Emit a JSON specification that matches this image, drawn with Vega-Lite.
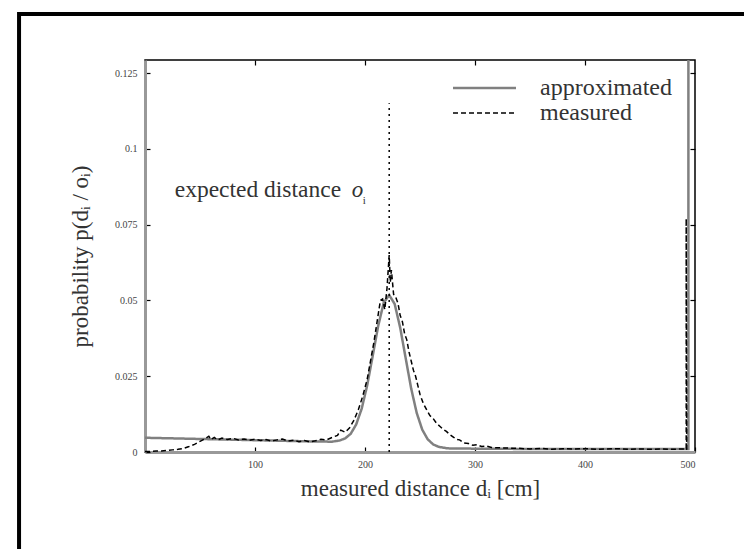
{
  "$schema": "https://vega.github.io/schema/vega-lite/v6.json",
  "width": 550,
  "height": 392,
  "autosize": "none",
  "padding": {"left": 145, "top": 60, "right": 49, "bottom": 97},
  "background": "white",
  "config": {
    "view": {"stroke": "black", "strokeWidth": 1.5},
    "font": "Liberation Serif",
    "text": {"font": "Liberation Serif"}
  },
  "resolve": {"axis": {"x": "independent", "y": "independent"}},
  "layer": [
    {
      "data": {"values": [{}]},
      "mark": {"type": "rect", "fill": "transparent", "stroke": "black", "strokeWidth": 4, "clip": false},
      "encoding": {
        "x": {"datum": -114.5, "type": "quantitative", "axis": null},
        "x2": {"datum": 548},
        "y": {"datum": 0.1445, "type": "quantitative", "axis": null},
        "y2": {"datum": -0.05}
      }
    },
    {
      "data": {
        "values": [
          {"series": "approximated", "i": 0, "x": 0, "y": 0.0047},
          {"series": "approximated", "i": 1, "x": 25, "y": 0.0045},
          {"series": "approximated", "i": 2, "x": 50, "y": 0.0043},
          {"series": "approximated", "i": 3, "x": 75, "y": 0.0041},
          {"series": "approximated", "i": 4, "x": 100, "y": 0.0039},
          {"series": "approximated", "i": 5, "x": 125, "y": 0.0037},
          {"series": "approximated", "i": 6, "x": 150, "y": 0.0035},
          {"series": "approximated", "i": 7, "x": 170, "y": 0.0034},
          {"series": "approximated", "i": 8, "x": 177, "y": 0.0038},
          {"series": "approximated", "i": 9, "x": 182, "y": 0.0045},
          {"series": "approximated", "i": 10, "x": 187, "y": 0.006},
          {"series": "approximated", "i": 11, "x": 192, "y": 0.0091},
          {"series": "approximated", "i": 12, "x": 197, "y": 0.0143},
          {"series": "approximated", "i": 13, "x": 202, "y": 0.022},
          {"series": "approximated", "i": 14, "x": 207, "y": 0.0317},
          {"series": "approximated", "i": 15, "x": 212, "y": 0.0416},
          {"series": "approximated", "i": 16, "x": 217, "y": 0.0492},
          {"series": "approximated", "i": 17, "x": 222, "y": 0.0518},
          {"series": "approximated", "i": 18, "x": 227, "y": 0.0488},
          {"series": "approximated", "i": 19, "x": 232, "y": 0.041},
          {"series": "approximated", "i": 20, "x": 237, "y": 0.0309},
          {"series": "approximated", "i": 21, "x": 242, "y": 0.0209},
          {"series": "approximated", "i": 22, "x": 247, "y": 0.0129},
          {"series": "approximated", "i": 23, "x": 252, "y": 0.0074},
          {"series": "approximated", "i": 24, "x": 257, "y": 0.0042},
          {"series": "approximated", "i": 25, "x": 262, "y": 0.0025},
          {"series": "approximated", "i": 26, "x": 267, "y": 0.0017},
          {"series": "approximated", "i": 27, "x": 275, "y": 0.0012},
          {"series": "approximated", "i": 28, "x": 300, "y": 0.0011},
          {"series": "approximated", "i": 29, "x": 350, "y": 0.001},
          {"series": "approximated", "i": 30, "x": 400, "y": 0.001},
          {"series": "approximated", "i": 31, "x": 450, "y": 0.001},
          {"series": "approximated", "i": 32, "x": 494, "y": 0.001},
          {"series": "approximated", "i": 33, "x": 494, "y": 0.14},
          {"series": "measured", "i": 0, "x": 0, "y": 0.0002},
          {"series": "measured", "i": 1, "x": 5, "y": 0.0002},
          {"series": "measured", "i": 2, "x": 10, "y": 0.0003},
          {"series": "measured", "i": 3, "x": 15, "y": 0.0003},
          {"series": "measured", "i": 4, "x": 20, "y": 0.0005},
          {"series": "measured", "i": 5, "x": 25, "y": 0.0007},
          {"series": "measured", "i": 6, "x": 30, "y": 0.0009},
          {"series": "measured", "i": 7, "x": 35, "y": 0.0012},
          {"series": "measured", "i": 8, "x": 40, "y": 0.0018},
          {"series": "measured", "i": 9, "x": 45, "y": 0.0025},
          {"series": "measured", "i": 10, "x": 50, "y": 0.0035},
          {"series": "measured", "i": 11, "x": 55, "y": 0.0045},
          {"series": "measured", "i": 12, "x": 58, "y": 0.0052},
          {"series": "measured", "i": 13, "x": 60, "y": 0.0041},
          {"series": "measured", "i": 14, "x": 63, "y": 0.0048},
          {"series": "measured", "i": 15, "x": 66, "y": 0.004},
          {"series": "measured", "i": 16, "x": 70, "y": 0.0046},
          {"series": "measured", "i": 17, "x": 75, "y": 0.0041},
          {"series": "measured", "i": 18, "x": 80, "y": 0.0045},
          {"series": "measured", "i": 19, "x": 85, "y": 0.004},
          {"series": "measured", "i": 20, "x": 90, "y": 0.0043},
          {"series": "measured", "i": 21, "x": 95, "y": 0.0039},
          {"series": "measured", "i": 22, "x": 100, "y": 0.0042},
          {"series": "measured", "i": 23, "x": 105, "y": 0.0038},
          {"series": "measured", "i": 24, "x": 110, "y": 0.0041},
          {"series": "measured", "i": 25, "x": 115, "y": 0.0036},
          {"series": "measured", "i": 26, "x": 120, "y": 0.004},
          {"series": "measured", "i": 27, "x": 125, "y": 0.0043},
          {"series": "measured", "i": 28, "x": 130, "y": 0.0036},
          {"series": "measured", "i": 29, "x": 135, "y": 0.0039},
          {"series": "measured", "i": 30, "x": 140, "y": 0.0034},
          {"series": "measured", "i": 31, "x": 145, "y": 0.0038},
          {"series": "measured", "i": 32, "x": 150, "y": 0.0033},
          {"series": "measured", "i": 33, "x": 155, "y": 0.0037},
          {"series": "measured", "i": 34, "x": 160, "y": 0.0042},
          {"series": "measured", "i": 35, "x": 165, "y": 0.004},
          {"series": "measured", "i": 36, "x": 170, "y": 0.0048},
          {"series": "measured", "i": 37, "x": 175, "y": 0.0055},
          {"series": "measured", "i": 38, "x": 178, "y": 0.0072},
          {"series": "measured", "i": 39, "x": 182, "y": 0.0065},
          {"series": "measured", "i": 40, "x": 186, "y": 0.008},
          {"series": "measured", "i": 41, "x": 190, "y": 0.0105},
          {"series": "measured", "i": 42, "x": 194, "y": 0.014},
          {"series": "measured", "i": 43, "x": 198, "y": 0.0185},
          {"series": "measured", "i": 44, "x": 202, "y": 0.024},
          {"series": "measured", "i": 45, "x": 205, "y": 0.03},
          {"series": "measured", "i": 46, "x": 208, "y": 0.036},
          {"series": "measured", "i": 47, "x": 211, "y": 0.043},
          {"series": "measured", "i": 48, "x": 214, "y": 0.05},
          {"series": "measured", "i": 49, "x": 216, "y": 0.0505},
          {"series": "measured", "i": 50, "x": 218, "y": 0.047},
          {"series": "measured", "i": 51, "x": 220, "y": 0.054},
          {"series": "measured", "i": 52, "x": 222, "y": 0.065},
          {"series": "measured", "i": 53, "x": 223, "y": 0.056},
          {"series": "measured", "i": 54, "x": 224, "y": 0.06},
          {"series": "measured", "i": 55, "x": 226, "y": 0.052},
          {"series": "measured", "i": 56, "x": 228, "y": 0.051},
          {"series": "measured", "i": 57, "x": 230, "y": 0.049},
          {"series": "measured", "i": 58, "x": 232, "y": 0.045},
          {"series": "measured", "i": 59, "x": 234, "y": 0.043},
          {"series": "measured", "i": 60, "x": 236, "y": 0.039},
          {"series": "measured", "i": 61, "x": 238, "y": 0.037},
          {"series": "measured", "i": 62, "x": 240, "y": 0.033},
          {"series": "measured", "i": 63, "x": 242, "y": 0.03},
          {"series": "measured", "i": 64, "x": 244, "y": 0.027},
          {"series": "measured", "i": 65, "x": 246, "y": 0.025},
          {"series": "measured", "i": 66, "x": 248, "y": 0.022},
          {"series": "measured", "i": 67, "x": 250, "y": 0.019},
          {"series": "measured", "i": 68, "x": 253, "y": 0.016},
          {"series": "measured", "i": 69, "x": 256, "y": 0.014},
          {"series": "measured", "i": 70, "x": 259, "y": 0.012},
          {"series": "measured", "i": 71, "x": 262, "y": 0.011},
          {"series": "measured", "i": 72, "x": 265, "y": 0.0095},
          {"series": "measured", "i": 73, "x": 268, "y": 0.0085},
          {"series": "measured", "i": 74, "x": 271, "y": 0.0075},
          {"series": "measured", "i": 75, "x": 274, "y": 0.0068},
          {"series": "measured", "i": 76, "x": 277, "y": 0.0058},
          {"series": "measured", "i": 77, "x": 280, "y": 0.005},
          {"series": "measured", "i": 78, "x": 283, "y": 0.0042},
          {"series": "measured", "i": 79, "x": 286, "y": 0.004},
          {"series": "measured", "i": 80, "x": 290, "y": 0.003},
          {"series": "measured", "i": 81, "x": 294, "y": 0.0028},
          {"series": "measured", "i": 82, "x": 298, "y": 0.0022},
          {"series": "measured", "i": 83, "x": 302, "y": 0.0024},
          {"series": "measured", "i": 84, "x": 306, "y": 0.0018},
          {"series": "measured", "i": 85, "x": 310, "y": 0.002},
          {"series": "measured", "i": 86, "x": 315, "y": 0.0015},
          {"series": "measured", "i": 87, "x": 320, "y": 0.0014},
          {"series": "measured", "i": 88, "x": 330, "y": 0.0013},
          {"series": "measured", "i": 89, "x": 340, "y": 0.0012},
          {"series": "measured", "i": 90, "x": 350, "y": 0.001},
          {"series": "measured", "i": 91, "x": 360, "y": 0.0012},
          {"series": "measured", "i": 92, "x": 370, "y": 0.0009},
          {"series": "measured", "i": 93, "x": 380, "y": 0.0011},
          {"series": "measured", "i": 94, "x": 390, "y": 0.001},
          {"series": "measured", "i": 95, "x": 400, "y": 0.0011},
          {"series": "measured", "i": 96, "x": 410, "y": 0.0009},
          {"series": "measured", "i": 97, "x": 420, "y": 0.001},
          {"series": "measured", "i": 98, "x": 430, "y": 0.0011},
          {"series": "measured", "i": 99, "x": 440, "y": 0.0009},
          {"series": "measured", "i": 100, "x": 450, "y": 0.001},
          {"series": "measured", "i": 101, "x": 460, "y": 0.0009},
          {"series": "measured", "i": 102, "x": 470, "y": 0.001},
          {"series": "measured", "i": 103, "x": 480, "y": 0.0009},
          {"series": "measured", "i": 104, "x": 490, "y": 0.001},
          {"series": "measured", "i": 105, "x": 492, "y": 0.001},
          {"series": "measured", "i": 106, "x": 492, "y": 0.077},
          {"series": "measured", "i": 107, "x": 492.5, "y": 0.0}
        ]
      },
      "mark": {"type": "line", "clip": true, "interpolate": "linear"},
      "encoding": {
        "x": {
          "field": "x", "type": "quantitative",
          "scale": {"domain": [0, 500], "nice": false, "zero": false},
          "axis": {
            "orient": "bottom", "values": [100, 200, 300, 400, 500],
            "labelFont": "Liberation Serif", "labelFontSize": 10, "labelColor": "#444",
            "tickSize": -5, "tickColor": "black", "tickWidth": 1.2,
            "domainColor": "#999", "domainWidth": 3, "grid": false,
            "labelPadding": 12,
            "title": "measured distance dᵢ [cm]",
            "titleFont": "Liberation Serif", "titleFontSize": 23, "titleFontWeight": "normal",
            "titleColor": "#333", "titlePadding": 8
          }
        },
        "y": {
          "field": "y", "type": "quantitative",
          "scale": {"domain": [0, 0.1293], "nice": false, "zero": false},
          "axis": {
            "orient": "left", "values": [0, 0.025, 0.05, 0.075, 0.1, 0.125], "format": ".3~f",
            "labelFont": "Liberation Serif", "labelFontSize": 10, "labelColor": "#444",
            "tickSize": -5, "tickColor": "black", "tickWidth": 1.2,
            "domainColor": "#999", "domainWidth": 3, "grid": false,
            "labelPadding": 13,
            "title": "probability  p(dᵢ / oᵢ)",
            "titleFont": "Liberation Serif", "titleFontSize": 23, "titleFontWeight": "normal",
            "titleColor": "#333", "titlePadding": 22
          }
        },
        "order": {"field": "i", "type": "quantitative"},
        "color": {
          "field": "series", "type": "nominal",
          "scale": {"domain": ["approximated", "measured"], "range": ["#808080", "#000000"]},
          "legend": {
            "title": null, "orient": "none", "legendX": 327.5, "legendY": 16,
            "symbolType": "M-8,0H8", "symbolSize": 62,
            "labelFont": "Liberation Serif", "labelFontSize": 24, "labelColor": "#333",
            "labelOffset": 43.5, "rowPadding": 1
          }
        },
        "strokeDash": {
          "field": "series", "type": "nominal",
          "scale": {"domain": ["approximated", "measured"], "range": [[1, 0], [5, 3]]},
          "legend": {
            "title": null, "orient": "none", "legendX": 327.5, "legendY": 16,
            "symbolType": "M-8,0H8", "symbolSize": 62,
            "labelFont": "Liberation Serif", "labelFontSize": 24, "labelColor": "#333",
            "labelOffset": 43.5, "rowPadding": 1
          }
        },
        "strokeWidth": {
          "field": "series", "type": "nominal",
          "scale": {"domain": ["approximated", "measured"], "range": [2.5, 1.5]},
          "legend": {
            "title": null, "orient": "none", "legendX": 327.5, "legendY": 16,
            "symbolType": "M-8,0H8", "symbolSize": 62,
            "labelFont": "Liberation Serif", "labelFontSize": 24, "labelColor": "#333",
            "labelOffset": 43.5, "rowPadding": 1
          }
        }
      }
    },
    {
      "data": {"values": [{}]},
      "mark": {"type": "rule", "color": "black", "strokeWidth": 1.5, "strokeDash": [2, 4]},
      "encoding": {
        "x": {
          "datum": 222, "type": "quantitative",
          "axis": {
            "orient": "top", "values": [100, 200, 300, 400], "labels": false, "domain": false,
            "tickSize": -5, "tickColor": "black", "tickWidth": 1.2, "grid": false, "title": null
          }
        },
        "y": {
          "datum": 0, "type": "quantitative",
          "axis": {
            "orient": "right", "values": [0.025, 0.05, 0.075, 0.1, 0.125], "labels": false, "domain": false,
            "tickSize": -5, "tickColor": "black", "tickWidth": 1.2, "grid": false, "title": null
          }
        },
        "y2": {"datum": 0.115}
      }
    },
    {
      "data": {"values": [{}]},
      "mark": {"type": "text", "align": "left", "baseline": "middle", "fontSize": 23.5, "color": "#333", "text": "expected distance"},
      "encoding": {
        "x": {"datum": 27, "type": "quantitative", "axis": null},
        "y": {"datum": 0.0864, "type": "quantitative", "axis": null}
      }
    },
    {
      "data": {"values": [{}]},
      "mark": {"type": "text", "align": "left", "baseline": "middle", "fontSize": 23, "fontStyle": "italic", "color": "#333", "text": "o"},
      "encoding": {
        "x": {"datum": 188, "type": "quantitative", "axis": null},
        "y": {"datum": 0.0864, "type": "quantitative", "axis": null}
      }
    },
    {
      "data": {"values": [{}]},
      "mark": {"type": "text", "align": "left", "baseline": "top", "fontSize": 11, "color": "#333", "text": "i"},
      "encoding": {
        "x": {"datum": 198, "type": "quantitative", "axis": null},
        "y": {"datum": 0.0848, "type": "quantitative", "axis": null}
      }
    }
  ]
}
